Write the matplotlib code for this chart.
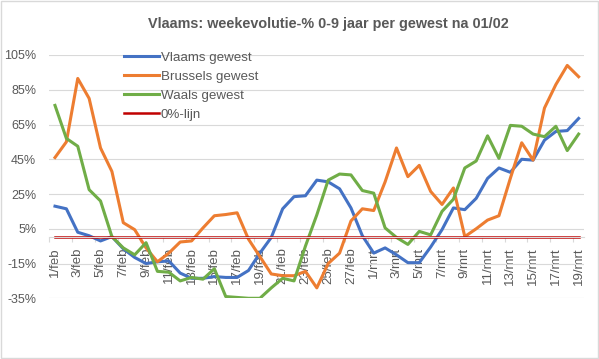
import numpy as np
import matplotlib
matplotlib.use('Agg')
import matplotlib.pyplot as plt
from matplotlib.patches import Rectangle

plt.rcParams['font.family'] = ['Liberation Sans', 'DejaVu Sans']

# dagen 1/feb t.e.m. 19/mrt
dagen = [str(d) + '/feb' for d in range(1, 29)] + [str(d) + '/mrt' for d in range(1, 20)]

vlaams = [18, 16.5, 3, 1, -2, 0.5, -6.5, -11.5, -15, -14, -13.5, -20.5, -23.5, -23.5,
          -22.5, -23, -23, -19, -9, 0, 16.5, 23.5, 24, 33, 32, 28, 17, 1, -9, -6,
          -10, -14.5, -14.5, -5.5, 4.5, 17, 16, 22.5, 34, 40, 37.5, 45, 44.5, 56,
          61, 61.5, 68.5]
brussels = [46, 55, 91.5, 80, 51.5, 38, 8.5, 4.5, -6, -14, -9, -2.6, -2, 5.5, 12.5,
            13.2, 14.2, -1, -11, -21, -22, -22, -19.5, -29, -15, -9, 9.5, 16.5, 15.5,
            32, 51.5, 35, 41.5, 26.5, 19, 28.5, 0.5, 5, 10, 12.5, 34, 54.5, 44.5,
            74.5, 88, 99, 92.5]
waals = [76, 57, 52.5, 27.5, 21, 0.5, -6, -10, -3, -19.5, -20, -25, -23, -24, -18,
         -34, -34.5, -35, -35, -29, -23.5, -25, -5, 13, 33, 36.5, 36, 27, 25.5, 5.5,
         0, -4, 3.5, 1.5, 15, 22, 40, 44, 58.5, 45.5, 64.5, 64, 59.5, 58, 64, 50,
         59.5]
nullijn = [0] * len(dagen)

y_ticks = [105, 85, 65, 45, 25, 5, -15, -35]
y_labels = ['105%', '85%', '65%', '45%', '25%', '5%', '-15%', '-35%']

grijs = '#595959'
x = np.arange(len(dagen))

fig = plt.figure(figsize=(5.99, 3.59), dpi=100)
ax = fig.add_axes([0.0823, 0.1691, 0.8932, 0.6777])

ax.plot(x, vlaams, color='#4472C4', lw=2.2, label='Vlaams gewest')
ax.plot(x, brussels, color='#ED7D31', lw=2.2, label='Brussels gewest')
ax.plot(x, waals, color='#70AD47', lw=2.2, label='Waals gewest')
ax.plot(x, nullijn, color='#C00000', lw=1.8, label='0%-lijn')

ax.set_xlim(-0.5, len(dagen) - 0.5)
ax.set_ylim(-35, 105)
ax.set_yticks(y_ticks)
ax.set_yticklabels(y_labels)
ax.grid(True, axis='y', color='#D9D9D9', lw=0.8)
ax.set_axisbelow(True)
for s in ['top', 'right', 'left']:
    ax.spines[s].set_visible(False)
ax.spines['bottom'].set_position(('data', 0))
ax.spines['bottom'].set_color('#D9D9D9')

ax.set_xticks(x[::2])
ax.set_xticklabels(dagen[::2], rotation=90)
ax.set_xticks(np.arange(-0.5, len(dagen) - 0.5, 2), minor=True)
ax.tick_params(axis='x', which='major', length=0, pad=7.2, labelsize=9.5, labelcolor=grijs)
ax.tick_params(axis='x', which='minor', length=3.6, color='#D9D9D9', width=0.8)
ax.tick_params(axis='y', length=0, pad=9.4, labelsize=9, labelcolor=grijs)

leg = ax.legend(loc='upper left', bbox_to_anchor=(0.207, 0.857), bbox_transform=fig.transFigure,
                frameon=False, fontsize=9.6, labelcolor=grijs, handlelength=2.6,
                handletextpad=0.15, labelspacing=0.5, borderpad=0, borderaxespad=0)

fig.text(0.549, 0.933, 'Vlaams: weekevolutie-% 0-9 jaar per gewest na 01/02',
         ha='center', va='center', fontsize=10.4, fontweight='bold', color=grijs)

fig.patches.append(Rectangle((0.001, 0.002), 0.997, 0.996, transform=fig.transFigure,
                             fill=False, edgecolor='#D9D9D9', lw=1))

fig.savefig('out.png', dpi=100)
